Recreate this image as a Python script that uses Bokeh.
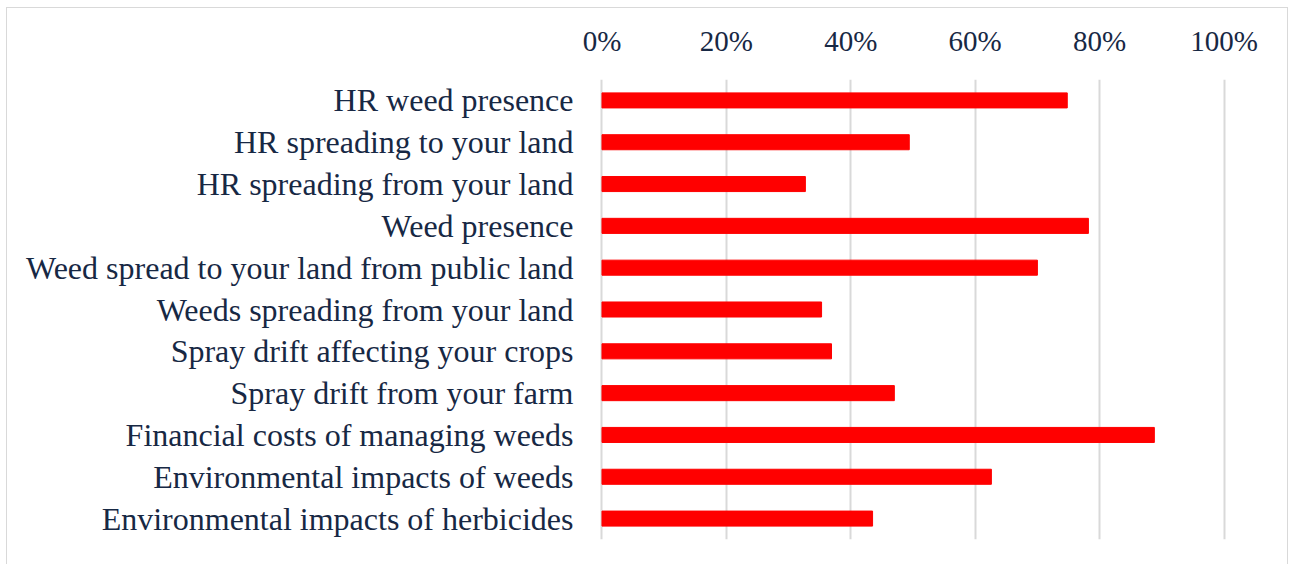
from bokeh.plotting import figure
from bokeh.models import FactorRange, Range1d, FixedTicker, ColumnDataSource
from bokeh.embed import file_html
from bokeh.resources import INLINE

categories = [
    "HR weed presence",
    "HR spreading to your land",
    "HR spreading from your land",
    "Weed presence",
    "Weed spread to your land from public land",
    "Weeds spreading from your land",
    "Spray drift affecting your crops",
    "Spray drift from your farm",
    "Financial costs of managing weeds",
    "Environmental impacts of weeds",
    "Environmental impacts of herbicides",
]
values = [0.748, 0.494, 0.327, 0.782, 0.700, 0.353, 0.369, 0.470, 0.888, 0.626, 0.435]
x_ticks = [0.0, 0.2, 0.4, 0.6, 0.8, 1.0]
x_tick_labels = ["0%", "20%", "40%", "60%", "80%", "100%"]

TEXT = "#172844"
FONT = "Liberation Serif"

src = ColumnDataSource(dict(cat=categories, val=values))

p = figure(
    width=1282, height=557,
    y_range=FactorRange(factors=categories[::-1], range_padding=0),
    x_range=Range1d(-0.004, 1.004),
    x_axis_location="above",
    output_backend="svg", toolbar_location=None,
    min_border_left=592, min_border_right=63,
    min_border_top=71, min_border_bottom=26,
)
p.styles = {"border": "1px solid #d9d9d9", "border-bottom": "none",
            "margin-left": "6px", "margin-top": "7px"}
p.outline_line_color = None
p.background_fill_color = "white"
p.border_fill_color = "white"

p.hbar(y="cat", left=0, right="val", height=0.36, color="#ff0000", source=src)

xa = p.xaxis[0]
xa.ticker = FixedTicker(ticks=x_ticks)
xa.major_label_overrides = {t: l for t, l in zip(x_ticks, x_tick_labels)}
xa.axis_line_color = None
xa.major_tick_line_color = None
xa.minor_tick_line_color = None
xa.major_label_text_font = FONT
xa.major_label_text_font_size = "29px"
xa.major_label_text_color = TEXT
xa.major_label_standoff = 17

ya = p.yaxis[0]
ya.axis_line_color = None
ya.major_tick_line_color = None
ya.minor_tick_line_color = None
ya.major_label_text_font = FONT
ya.major_label_text_font_size = "32px"
ya.major_label_text_color = TEXT
ya.major_label_standoff = 20

p.ygrid.grid_line_color = None
p.xgrid.ticker = FixedTicker(ticks=x_ticks)
p.xgrid.grid_line_color = "#d9d9d9"
p.xgrid.grid_line_width = 2

open("out.html", "w").write(file_html(p, INLINE))
